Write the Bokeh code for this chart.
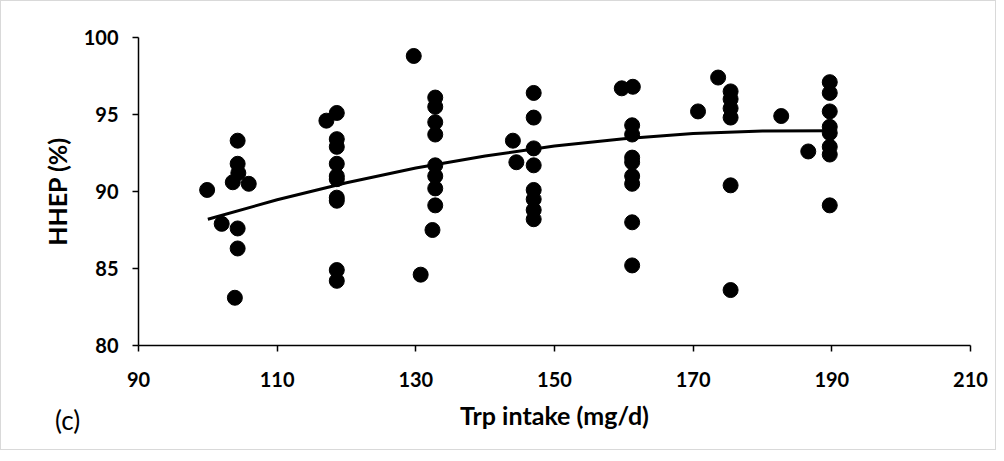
from bokeh.plotting import figure
from bokeh.models import FixedTicker, Range1d, Div
from bokeh.layouts import column
from bokeh.embed import file_html
from bokeh.resources import INLINE

# Scatter data: Trp intake (mg/d) vs HHEP (%)
trp_intake = [
    99.9, 102.0, 104.3, 104.3, 104.4, 103.6, 105.9, 104.3, 104.3, 103.9,
    118.6, 117.1, 118.6, 118.6, 118.6, 118.6, 118.6, 118.6, 118.6, 118.6, 118.6,
    129.7, 132.8, 132.8, 132.8, 132.8, 132.8, 132.8, 132.8, 132.8, 132.4, 130.7,
    144.0, 144.5, 147.0, 147.0, 147.0, 147.0, 147.0, 147.0, 147.0, 147.0,
    159.7, 161.3, 161.2, 161.2, 161.2, 161.2, 161.2, 161.2, 161.2, 161.2,
    173.6, 170.7, 175.4, 175.4, 175.4, 175.4, 175.4, 175.4, 182.7, 186.6,
    189.7, 189.7, 189.7, 189.7, 189.7, 189.7, 189.7, 189.7,
]
hhep = [
    90.1, 87.9, 93.3, 91.8, 91.2, 90.6, 90.5, 87.6, 86.3, 83.1,
    95.1, 94.6, 93.4, 92.9, 91.8, 91.0, 90.8, 89.6, 89.4, 84.9, 84.2,
    98.8, 96.1, 95.5, 94.5, 93.7, 91.7, 91.0, 90.2, 89.1, 87.5, 84.6,
    93.3, 91.9, 96.4, 94.8, 92.8, 91.7, 90.1, 89.5, 88.8, 88.2,
    96.7, 96.8, 94.3, 93.7, 92.2, 91.9, 91.0, 90.5, 88.0, 85.2,
    97.4, 95.2, 96.5, 96.0, 95.4, 94.8, 90.4, 83.6, 94.9, 92.6,
    97.1, 96.4, 95.2, 94.2, 93.8, 92.9, 92.4, 89.1,
]

# Polynomial trend line
trend_x = [100, 110, 120, 130, 140, 150, 160, 170, 180, 190]
trend_y = [88.2, 89.46, 90.57, 91.52, 92.31, 92.95, 93.43, 93.76, 93.93, 93.95]

x_ticks = [90, 110, 130, 150, 170, 190, 210]
y_ticks = [80, 85, 90, 95, 100]
panel_tag = "(c)"

FONT = "Lato"

p = figure(width=996, height=450, output_backend="svg", toolbar_location=None,
           x_range=Range1d(90, 210), y_range=Range1d(80, 100),
           min_border_left=137, min_border_right=27, min_border_top=36,
           min_border_bottom=106)
p.styles = {"border": "1px solid #d9d9d9", "box-sizing": "border-box"}
p.outline_line_color = None
p.xgrid.grid_line_color = None
p.ygrid.grid_line_color = None

p.line(trend_x, trend_y, line_color="black", line_width=3)
p.scatter(trp_intake, hhep, size=15, fill_color="black", line_color="black")

for ax in (p.xaxis[0], p.yaxis[0]):
    ax.axis_line_color = "black"
    ax.axis_line_width = 1.5
    ax.major_tick_line_color = "black"
    ax.major_tick_line_width = 1.5
    ax.major_tick_out = 6
    ax.major_tick_in = 0
    ax.minor_tick_line_color = None
    ax.major_label_text_font = FONT
    ax.major_label_text_font_style = "bold"
    ax.major_label_text_font_size = "20px"
    ax.major_label_text_color = "black"
    ax.axis_label_text_font = FONT
    ax.axis_label_text_font_style = "bold"
    ax.axis_label_text_font_size = "25px"
    ax.axis_label_text_color = "black"

p.xaxis.ticker = FixedTicker(ticks=x_ticks)
p.yaxis.ticker = FixedTicker(ticks=y_ticks)
p.xaxis.axis_label = "Trp intake (mg/d)"
p.yaxis.axis_label = "HHEP (%)"
p.xaxis.major_label_standoff = 20
p.yaxis.major_label_standoff = 14
p.xaxis.axis_label_standoff = 10
p.yaxis.axis_label_standoff = 9

tag_html = ('<span style="font-family: Lato; font-size: 26px; line-height: 30px; '
            'color: black;">' + panel_tag + '</span>')
tag = Div(text=tag_html, width=50, height=30, margin=(-45, 0, 0, 55))

layout = column(p, tag, spacing=0)

open("out.html", "w").write(file_html(layout, INLINE))
